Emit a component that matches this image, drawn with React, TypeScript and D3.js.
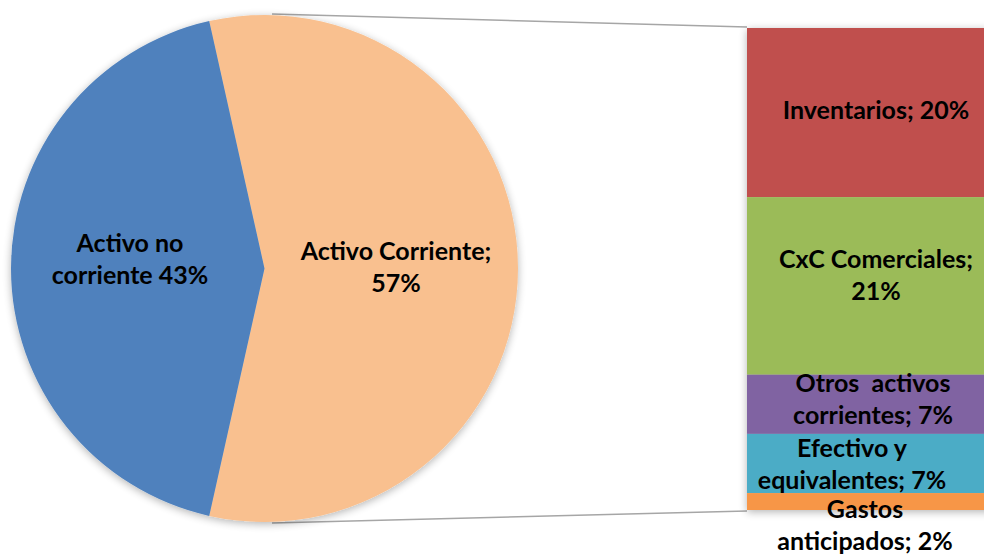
import React from "react";
import * as d3 from "d3";

const WIDTH = 984;
const HEIGHT = 556;

// pie
const pieLabels = ["Activo Corriente", "Activo no corriente"];
const pieValues = [57, 43];
const pieText = [["Activo Corriente;", "57%"], ["Activo no", "corriente 43%"]];
const pieColors = ["#F9C08F", "#4F81BD"];

// breakdown bar (top to bottom)
const barLabels = ["Inventarios", "CxC Comerciales", "Otros activos corrientes", "Efectivo y equivalentes", "Gastos anticipados"];
const barValues = [20, 21, 7, 7, 2];
const barText = [
  ["Inventarios; 20%"],
  ["CxC Comerciales;", "21%"],
  ["Otros  activos", "corrientes; 7%"],
  ["Efectivo y", "equivalentes; 7%"],
  ["Gastos", "anticipados; 2%"],
];
const barColors = ["#C0504D", "#9BBB59", "#8064A2", "#4BACC6", "#F79646"];

const PIE = { cx: 264.5, cy: 268.5, r: 253.5 };
const BAR = { x0: 747, x1: 1005, top: 28, bottom: 510 };
const FONT_SIZE = 25;
const LINE_H = 32;
const BASE = 8.5;
// label nudges (dx, dy) relative to segment centre
const LABEL_NUDGE = [[0, -2], [0, -10.5], [-3, -5], [-24, 1.5], [-11, 23.5]];
const PIE_LABEL_POS = [[396, 267.5], [130, 259.5]];

const FONT = "Lato, 'Open Sans', sans-serif";

export default function App() {
  const total = d3.sum(pieValues);
  const half = (pieValues[0] / total) * Math.PI;
  const start = Math.PI / 2 - half;
  const pie = d3.pie<number>().sort(null).startAngle(start).endAngle(start + 2 * Math.PI);
  const arcs = pie(pieValues);
  const arc = d3.arc<d3.PieArcDatum<number>>().innerRadius(0).outerRadius(PIE.r);

  const yScale = d3.scaleLinear().domain([0, d3.sum(barValues)]).range([BAR.top, BAR.bottom]);
  const cum = barValues.reduce<number[]>((acc, v, i) => {
    acc.push((i === 0 ? 0 : acc[i - 1]) + v);
    return acc;
  }, []);

  const connAngle = (1.7 * Math.PI) / 180;
  const topPt = [PIE.cx + PIE.r * Math.sin(connAngle), PIE.cy - PIE.r * Math.cos(connAngle) - 1];
  const botPt = [PIE.cx + PIE.r * Math.sin(connAngle), PIE.cy + PIE.r * Math.cos(connAngle) + 1];

  const lines = (arr: string[], x: number) =>
    arr.map((l, j) => (
      <tspan key={j} x={x} dy={j === 0 ? -((arr.length - 1) * LINE_H) / 2 + BASE : LINE_H} style={{ whiteSpace: "pre" }}>
        {l}
      </tspan>
    ));

  return (
    <svg
      width={WIDTH}
      height={HEIGHT}
      style={{ position: "absolute", left: 0, top: 0, background: "#fff" }}
      fontFamily={FONT}
    >
      <defs>
        <filter id="shadow" x="-10%" y="-10%" width="120%" height="120%">
          <feGaussianBlur in="SourceAlpha" stdDeviation="4" />
          <feOffset dx="0" dy="2" result="b" />
          <feComponentTransfer>
            <feFuncA type="linear" slope="0.3" />
          </feComponentTransfer>
          <feMerge>
            <feMergeNode />
            <feMergeNode in="SourceGraphic" />
          </feMerge>
        </filter>
      </defs>

      <line x1={topPt[0]} y1={topPt[1]} x2={BAR.x0} y2={yScale(0) - 1} stroke="#A6A6A6" strokeWidth={1.5} />
      <line x1={botPt[0]} y1={botPt[1]} x2={BAR.x0} y2={yScale(cum[cum.length - 1]) + 1} stroke="#A6A6A6" strokeWidth={1.5} />

      <g transform={`translate(${PIE.cx},${PIE.cy})`} filter="url(#shadow)">
        {arcs.map((a, i) => (
          <path key={pieLabels[i]} d={arc(a) || ""} fill={pieColors[i]} />
        ))}
      </g>

      {pieText.map((arr, i) => (
        <text
          key={pieLabels[i]}
          x={PIE_LABEL_POS[i][0]}
          y={PIE_LABEL_POS[i][1]}
          textAnchor="middle"
          fontSize={FONT_SIZE}
          fontWeight="bold"
          fill="#000"
        >
          {lines(arr, PIE_LABEL_POS[i][0])}
        </text>
      ))}

      <g filter="url(#shadow)">
        {barValues.map((v, i) => {
          const y0 = yScale(cum[i] - v);
          const y1 = yScale(cum[i]);
          return <rect key={barLabels[i]} x={BAR.x0} y={y0} width={BAR.x1 - BAR.x0} height={y1 - y0} fill={barColors[i]} />;
        })}
      </g>

      {barValues.map((v, i) => {
        const yc = (yScale(cum[i] - v) + yScale(cum[i])) / 2 + LABEL_NUDGE[i][1];
        const xc = (BAR.x0 + BAR.x1) / 2 + LABEL_NUDGE[i][0];
        return (
          <text key={barLabels[i]} x={xc} y={yc} textAnchor="middle" fontSize={FONT_SIZE} fontWeight="bold" fill="#000">
            {lines(barText[i], xc)}
          </text>
        );
      })}
    </svg>
  );
}
